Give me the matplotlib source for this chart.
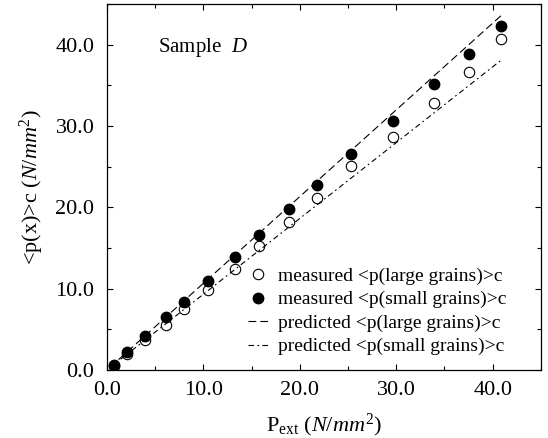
import numpy as np
import matplotlib
matplotlib.use("Agg")
import matplotlib.pyplot as plt
from matplotlib.ticker import MultipleLocator, FormatStrFormatter


p_ext = [0.7, 2.1, 4.0, 6.15, 7.95, 10.5, 13.3, 15.8, 18.85, 21.8, 25.35, 29.65, 33.9, 37.5, 40.85]
m_small = [0.65, 2.2, 4.25, 6.5, 8.35, 11.0, 13.95, 16.65, 19.85, 22.8, 26.5, 30.65, 35.2, 38.85, 42.3]
m_large = [0.55, 1.95, 3.75, 5.6, 7.45, 9.85, 12.45, 15.3, 18.2, 21.2, 25.05, 28.6, 32.8, 36.6, 40.65]

# predicted lines
pred_x = [0.3, 41.0]
pred_large = [0.32, 43.7]
pred_small = [0.28, 38.2]

plt.rcParams['font.family'] = ['Liberation Serif', 'DejaVu Serif']
plt.rcParams['mathtext.fontset'] = 'custom'
plt.rcParams['mathtext.rm'] = 'Liberation Serif'
plt.rcParams['mathtext.it'] = 'Liberation Serif:italic'

fig = plt.figure(figsize=(5.48, 4.38), dpi=100)
ax = fig.add_axes([0.195, 0.155, 0.792, 0.836])

ax.plot(p_ext, m_large, 'o', mfc='white', mec='black', mew=0.8, ms=7.5,
        label='measured <p(large grains)>c')
ax.plot(p_ext, m_small, 'o', mfc='black', mec='black', ms=7.5,
        label='measured <p(small grains)>c')
ax.plot(pred_x, pred_large, color='black', lw=0.8, dashes=(7, 3.6),
        label='predicted <p(large grains)>c')
ax.plot(pred_x, pred_small, color='black', lw=0.8, dashes=(5, 3, 1.5, 3),
        label='predicted <p(small grains)>c')

ax.set_xlim(0, 45)
ax.set_ylim(0, 45)
ax.xaxis.set_major_locator(MultipleLocator(10))
ax.xaxis.set_minor_locator(MultipleLocator(5))
ax.yaxis.set_major_locator(MultipleLocator(10))
ax.yaxis.set_minor_locator(MultipleLocator(5))
ax.xaxis.set_major_formatter(FormatStrFormatter('%.1f'))
ax.yaxis.set_major_formatter(FormatStrFormatter('%.1f'))
ax.tick_params(which='both', direction='in', top=True, right=True, labelsize=16, width=0.8)
ax.tick_params(which='major', length=4)
ax.tick_params(which='minor', length=3)
ax.tick_params(axis='y', pad=9)
ax.tick_params(axis='x', pad=8)
for s in ax.spines.values():
    s.set_linewidth(0.9)

ax.set_xlabel(r'P$_{\rm ext}$ ($N/mm^2$)', fontsize=16, labelpad=8)
ax.set_ylabel(r'<p(x)>c ($N/mm^2$)', fontsize=16, labelpad=7)
ax.text(0.117, 0.869, r'Sample  $D$', transform=ax.transAxes, fontsize=15)

ax.legend(loc='lower left', bbox_to_anchor=(0.325, 0.04), frameon=False, fontsize=14,
          handlelength=1.05, handletextpad=0.5, labelspacing=0.3,
          borderaxespad=0, borderpad=0)

fig.savefig('out.png', dpi=100)
